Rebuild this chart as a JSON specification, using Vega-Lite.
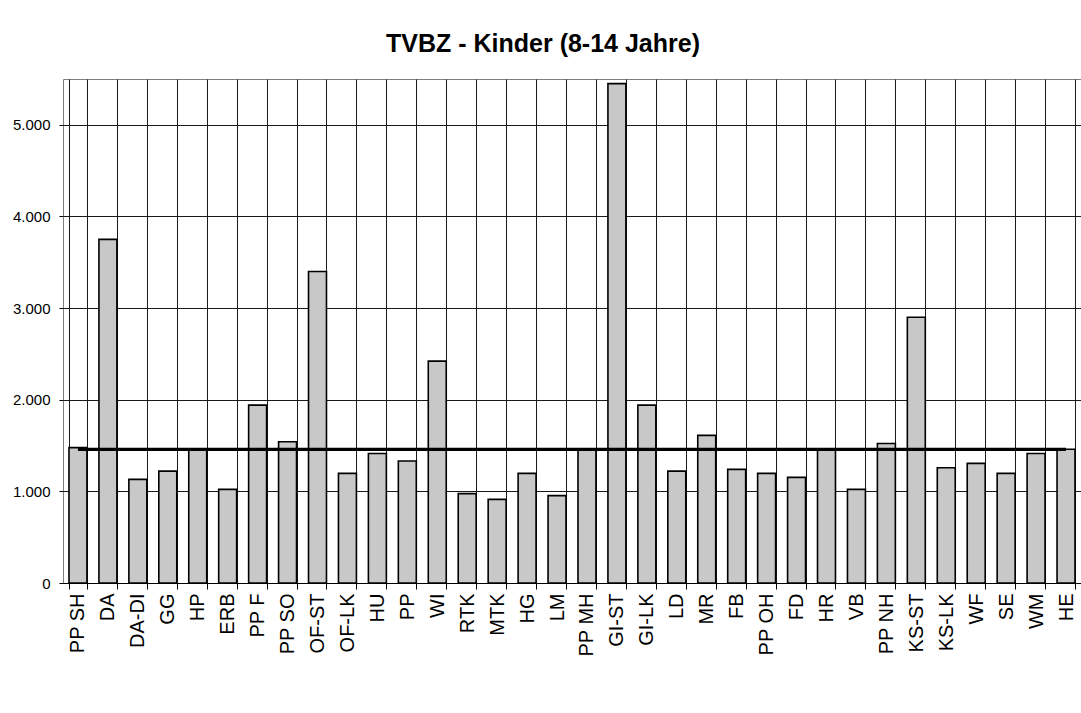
{
  "$schema": "https://vega.github.io/schema/vega-lite/v6.json",
  "autosize": "none",
  "width": 1018,
  "height": 504,
  "padding": {"left": 63, "top": 79, "right": 0, "bottom": 130},
  "background": "white",
  "title": {
    "text": "TVBZ - Kinder (8-14 Jahre)",
    "font": "Liberation Sans",
    "fontSize": 25,
    "fontWeight": "bold",
    "color": "black",
    "anchor": "middle",
    "frame": "group",
    "dx": -29,
    "offset": 22
  },
  "data": {
    "values": [
      {"region": "PP SH", "value": 1477, "avg": 1458},
      {"region": "DA", "value": 3750, "avg": 1458},
      {"region": "DA-DI", "value": 1131, "avg": 1458},
      {"region": "GG", "value": 1221, "avg": 1458},
      {"region": "HP", "value": 1450, "avg": 1458},
      {"region": "ERB", "value": 1022, "avg": 1458},
      {"region": "PP F", "value": 1941, "avg": 1458},
      {"region": "PP SO", "value": 1542, "avg": 1458},
      {"region": "OF-ST", "value": 3400, "avg": 1458},
      {"region": "OF-LK", "value": 1196, "avg": 1458},
      {"region": "HU", "value": 1414, "avg": 1458},
      {"region": "PP", "value": 1331, "avg": 1458},
      {"region": "WI", "value": 2421, "avg": 1458},
      {"region": "RTK", "value": 975, "avg": 1458},
      {"region": "MTK", "value": 913, "avg": 1458},
      {"region": "HG", "value": 1196, "avg": 1458},
      {"region": "LM", "value": 953, "avg": 1458},
      {"region": "PP MH", "value": 1450, "avg": 1458},
      {"region": "GI-ST", "value": 5450, "avg": 1458},
      {"region": "GI-LK", "value": 1941, "avg": 1458},
      {"region": "LD", "value": 1221, "avg": 1458},
      {"region": "MR", "value": 1611, "avg": 1458},
      {"region": "FB", "value": 1240, "avg": 1458},
      {"region": "PP OH", "value": 1196, "avg": 1458},
      {"region": "FD", "value": 1153, "avg": 1458},
      {"region": "HR", "value": 1455, "avg": 1458},
      {"region": "VB", "value": 1022, "avg": 1458},
      {"region": "PP NH", "value": 1523, "avg": 1458},
      {"region": "KS-ST", "value": 2900, "avg": 1458},
      {"region": "KS-LK", "value": 1258, "avg": 1458},
      {"region": "WF", "value": 1305, "avg": 1458},
      {"region": "SE", "value": 1196, "avg": 1458},
      {"region": "WM", "value": 1414, "avg": 1458},
      {"region": "HE", "value": 1460, "avg": 1458}
    ]
  },
  "encoding": {
    "x": {
      "field": "region",
      "type": "nominal",
      "sort": null,
      "scale": {"paddingInner": 0.4, "paddingOuter": 0.2},
      "axis": {
        "title": null,
        "labelAngle": -90,
        "labelFont": "Liberation Sans",
        "labelFontSize": 20,
        "labelColor": "black",
        "labelPadding": 4,
        "tickBand": "extent",
        "tickSize": 6,
        "tickColor": "black",
        "domainColor": "black",
        "grid": true,
        "gridColor": "#1a1a1a",
        "gridWidth": 1,
        "gridOpacity": 1
      }
    }
  },
  "layer": [
    {
      "mark": {"type": "bar", "fill": "#c8c8c8", "stroke": "black", "strokeWidth": 1.6},
      "encoding": {
        "y": {
          "field": "value",
          "type": "quantitative",
          "scale": {"domain": [0, 5500], "nice": false},
          "axis": {
            "title": null,
            "values": [0, 1000, 2000, 3000, 4000, 5000],
            "labelExpr": "replace(format(datum.value, ','), ',', '.')",
            "labelFont": "Liberation Sans",
            "labelFontSize": 15,
            "labelColor": "black",
            "labelPadding": 9,
            "tickSize": 4,
            "tickColor": "black",
            "domain": false,
            "grid": true,
            "gridColor": "#1a1a1a",
            "gridWidth": 1,
            "gridOpacity": 1
          }
        }
      }
    },
    {
      "mark": {"type": "line", "color": "black", "strokeWidth": 3.3},
      "encoding": {
        "y": {"field": "avg", "type": "quantitative"}
      }
    }
  ],
  "config": {
    "view": {"stroke": "#7f7f7f", "strokeWidth": 1}
  }
}
